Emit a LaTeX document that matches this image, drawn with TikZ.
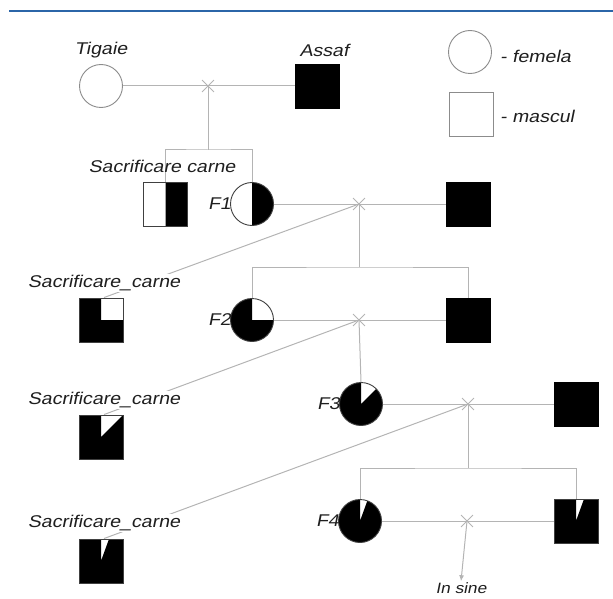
\documentclass[tikz,border=0pt]{standalone}
\usepackage{fontspec}
\newfontfamily\cadfont[FakeStretch=1.15,FakeSlant=0.2]{Liberation Sans}
\usetikzlibrary{shapes.misc,arrows.meta}
\definecolor{linegray}{HTML}{B4B4B4}
\definecolor{rimgray}{HTML}{8C8C8C}
\definecolor{rulerblue}{HTML}{2B65A8}
\begin{document}
\begin{tikzpicture}[x=1pt,y=-1pt,
  link/.style={draw=linegray, line width=1pt},
  lbl/.style={font=\cadfont\fontsize{17}{17}\selectfont, inner sep=1pt, text=black!88},
  female/.style={circle, draw=rimgray, line width=0.9pt, minimum size=43pt, inner sep=0pt, fill=white},
  male/.style={rectangle, draw=rimgray, line width=0.9pt, minimum size=44pt, inner sep=0pt, fill=white},
  solid/.style={fill=black, draw=black},
  % y runs downwards, so -90 points up and angles turn clockwise on the page
  darkpart/.style={draw=black!75, path picture={
      \fill[black] (path picture bounding box.center) -- ++(-90:40)
        arc[start angle=-90, end angle=#1, radius=40] -- cycle;}},
  mate/.style={cross out, draw=linegray, line width=0.9pt, minimum size=11pt, inner sep=0pt}
]
\path[use as bounding box] (0,0) rectangle (613,599);
\draw[rulerblue, line width=2.2pt] (9,11) -- (613,11);

% legend
\node[female] (legf) at (470,52) {};
\node[lbl, anchor=west] (legft) at (499,56) {- femela};
\node[male] (legm) at (471,114) {};
\node[lbl, anchor=west] (legmt) at (499,116) {- mascul};

% founders
\node[female] (tig) at (101,86) {};
\node[male, solid] (assaf) at (317,86) {};
\node[lbl] (tigt) at (101,50) {Tigaie};
\node[lbl] (assaft) at (324,50) {Assaf};
\node[mate] (x0) at (208,86) {};

% generation F1
\node[male, darkpart=90] (sq1) at (165.5,204) {};
\node[female, darkpart=90] (f1) at (252,204) {};
\node[male, solid] (m1) at (468,204) {};
\node[mate] (x1) at (359,204) {};
\coordinate (s0) at (208,150);

% generation F2
\node[male, darkpart=-360] (sq2) at (101,320) {};
\node[female, darkpart=-360] (f2) at (252,320) {};
\node[male, solid] (m2) at (468,320) {};
\node[mate] (x2) at (359,320) {};
\coordinate (s1) at (359,267);

% generation F3
\node[male, darkpart=-405] (sq3) at (101,437) {};
\node[female, darkpart=-405] (f3) at (361,404) {};
\node[male, solid] (m3) at (576,404) {};
\node[mate] (x3) at (468,404) {};

% generation F4
\node[male, darkpart=-430] (sq4) at (101,561) {};
\node[female, darkpart=-430] (f4) at (360,521) {};
\node[male, darkpart=-430] (m4) at (576,521) {};
\node[mate] (x4) at (467,521) {};
\coordinate (s3) at (468,468);

% matings
\draw[link] (tig) -- (assaf);
\draw[link] (f1) -- (m1);
\draw[link] (f2) -- (m2);
\draw[link] (f3) -- (m3);
\draw[link] (f4) -- (m4);

% offspring
\draw[link] (x0.center) -- (s0);
\draw[link] (sq1.north) |- (s0) -| (f1.north);
\draw[link] (x1.center) -- (s1);
\draw[link] (f2.north) |- (s1) -| (m2.north);
\draw[link] (x2.center) -- (f3.north);
\draw[link] (x3.center) -- (s3);
\draw[link] (f4.north) |- (s3) -| (m4.north);

% sacrificed offspring
\draw[link] (x1.center) -- ([xshift=3pt]sq2.north);
\draw[link] (x2.center) -- ([xshift=3pt]sq3.north);
\draw[link] (x3.center) -- ([xshift=3pt]sq4.north);

% labels
\node[lbl] (sc0) at (162,166) {Sacrificare carne};
\node[lbl, fill=white] (sc1) at (104,283) {Sacrificare\_carne};
\node[lbl, fill=white] (sc2) at (104,400) {Sacrificare\_carne};
\node[lbl, fill=white] (sc3) at (104,523) {Sacrificare\_carne};
\node[lbl, anchor=east] (f1t) at ([xshift=2pt]f1.west) {F1};
\node[lbl, anchor=east] (f2t) at ([xshift=2pt]f2.west) {F2};
\node[lbl, anchor=east] (f3t) at ([xshift=2pt]f3.west) {F3};
\node[lbl, anchor=east] (f4t) at ([xshift=2pt]f4.west) {F4};

% continuation
\node[lbl, font=\cadfont\fontsize{15}{15}\selectfont] (insine) at (461,588) {In sine};
\draw[link, -{Latex[length=6pt,width=5pt]}] (x4.center) -- (insine.north);
\end{tikzpicture}
\end{document}
